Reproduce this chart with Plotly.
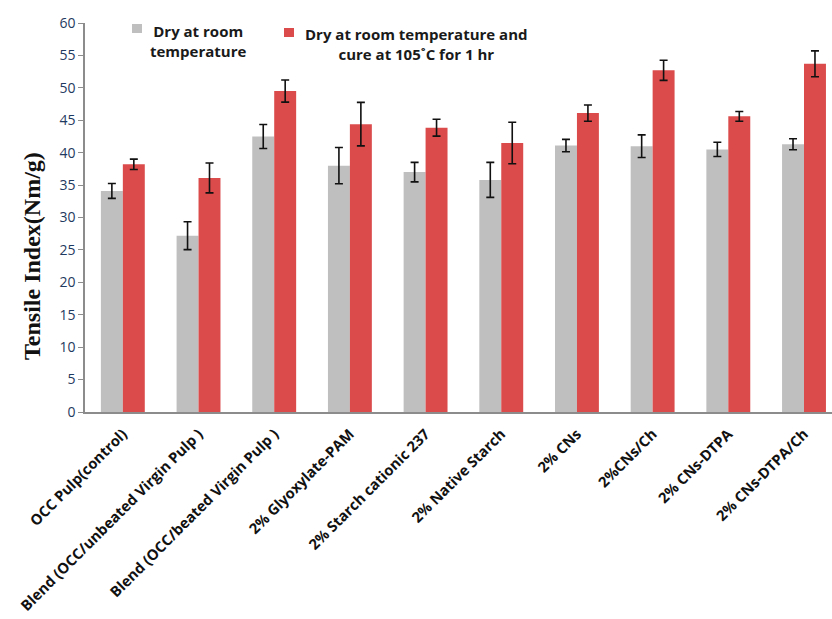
import plotly.graph_objects as go

# Treatments along the x axis
categories = [
    "OCC Pulp(control)",
    "Blend (OCC/unbeated Virgin Pulp )",
    "Blend (OCC/beated Virgin Pulp )",
    "2% Glyoxylate-PAM",
    "2% Starch cationic 237",
    "2% Native Starch",
    "2% CNs",
    "2%CNs/Ch",
    "2% CNs-DTPA",
    "2% CNs-DTPA/Ch",
]

# Tensile index (Nm/g), dried at room temperature
dry_room = [34.1, 27.2, 42.5, 38.0, 37.0, 35.8, 41.1, 41.0, 40.5, 41.3]
dry_room_err = [1.15, 2.15, 1.85, 2.8, 1.5, 2.7, 0.95, 1.75, 1.1, 0.85]

# Tensile index (Nm/g), dried at room temperature then cured at 105 C for 1 hr
cured = [38.2, 36.1, 49.5, 44.4, 43.85, 41.5, 46.1, 52.7, 45.6, 53.7]
cured_err = [0.8, 2.3, 1.7, 3.35, 1.3, 3.2, 1.25, 1.55, 0.75, 2.0]

legend_room = "Dry at room<br>temperature"
legend_cured = "Dry at room temperature and<br>cure at 105˚C for 1 hr"

GRAY = "#BFBFBF"
RED = "#DB4B4B"
TICK_BLUE = "#1F3A60"

x = list(range(len(categories)))

fig = go.Figure()
fig.add_trace(go.Bar(
    x=x, y=dry_room, name="Dry at room temperature",
    marker=dict(color=GRAY, line=dict(width=0)),
    error_y=dict(type="data", array=dry_room_err, color="#111111",
                 thickness=1.6, width=4),
))
fig.add_trace(go.Bar(
    x=x, y=cured, name="Dry at room temperature and cure at 105˚C for 1 hr",
    marker=dict(color=RED, line=dict(width=0)),
    error_y=dict(type="data", array=cured_err, color="#111111",
                 thickness=1.6, width=4),
))

W, H = 832, 619
L, R, T, B = 85, 0, 23, 207
PW, PH = W - L - R, H - T - B


def px_x(px):
    return (px - L) / PW


def px_y(py):
    return (H - B - py) / PH


# Legend drawn as coloured squares with centred two-line labels
fig.add_shape(type="rect", xref="paper", yref="paper",
              x0=px_x(132), x1=px_x(142), y0=px_y(33), y1=px_y(24),
              fillcolor=GRAY, line=dict(width=0))
fig.add_shape(type="rect", xref="paper", yref="paper",
              x0=px_x(284), x1=px_x(294), y0=px_y(37), y1=px_y(28),
              fillcolor=RED, line=dict(width=0))
legend_font = dict(family="Open Sans", size=15, color="#1a1a1a")
fig.add_annotation(text="<b>" + legend_room.replace("<br>", "</b><br><b>") + "</b>",
                   xref="paper", yref="paper", x=px_x(198), y=px_y(41),
                   showarrow=False, align="center", font=legend_font,
                   xanchor="center", yanchor="middle")
fig.add_annotation(text="<b>" + legend_cured.replace("<br>", "</b><br><b>") + "</b>",
                   xref="paper", yref="paper", x=px_x(416), y=px_y(44),
                   showarrow=False, align="center", font=legend_font,
                   xanchor="center", yanchor="middle")

# Y-axis title placed below the plot mid-height
fig.add_annotation(text="<b>Tensile Index(Nm/g)</b>", xref="paper", yref="paper",
                   x=px_x(32), y=px_y(256),
                   textangle=-90, showarrow=False,
                   font=dict(family="Liberation Serif", size=24, color="#111111"),
                   xanchor="center", yanchor="middle")

fig.update_layout(
    width=W, height=H,
    margin=dict(l=L, r=R, t=T, b=B),
    paper_bgcolor="white", plot_bgcolor="white",
    barmode="group", bargap=0.42, bargroupgap=0,
    showlegend=False,
    xaxis=dict(
        tickmode="array", tickvals=x,
        ticktext=["<b>" + c + "</b>" for c in categories],
        tickangle=-45, range=[-0.5, 9.37], automargin=False,
        showline=True, linecolor="#8C8C8C", linewidth=1.5,
        ticks="outside", ticklen=6, tickcolor="rgba(0,0,0,0)",
        showgrid=False, zeroline=False,
        tickfont=dict(family="Open Sans", size=14.7, color="#111111"),
    ),
    yaxis=dict(
        range=[0, 60], tickmode="linear", tick0=0, dtick=5, automargin=False,
        showline=True, linecolor="#8C8C8C", linewidth=1.5,
        ticks="outside", ticklen=5, tickcolor="#8C8C8C", tickwidth=1.2,
        showgrid=False, zeroline=False,
        tickfont=dict(family="Open Sans", size=14, color=TICK_BLUE),
    ),
)

fig.write_html("out.html")
